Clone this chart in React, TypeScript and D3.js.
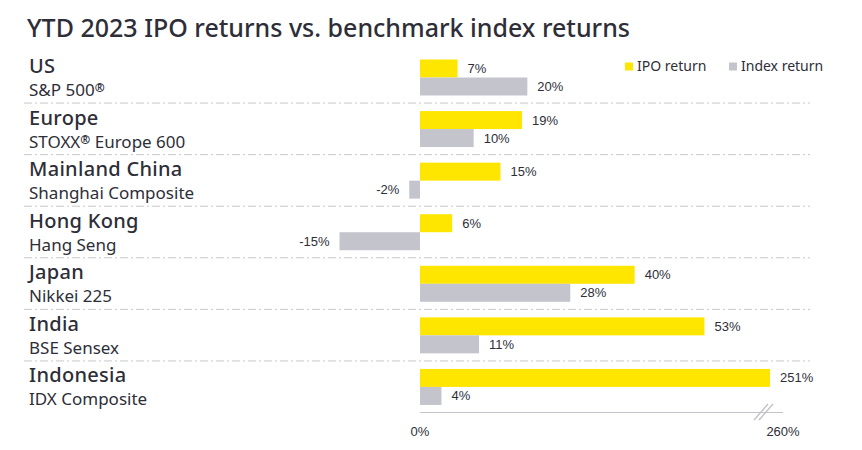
import React from "react";
import * as d3 from "d3";

const regions = ["US", "Europe", "Mainland China", "Hong Kong", "Japan", "India", "Indonesia"];
const indexNames = ["S&P 500®", "STOXX® Europe 600", "Shanghai Composite", "Hang Seng", "Nikkei 225", "BSE Sensex", "IDX Composite"];
const ipoReturns = [7, 19, 15, 6, 40, 53, 251];
const indexReturns = [20, 10, -2, -15, 28, 11, 4];
const axisTicks = [0, 260];
const seriesNames = ["IPO return", "Index return"];

const W = 862;
const H = 450;
const YELLOW = "#FFE600";
const GREY = "#C4C4CD";
const TEXT = "#2E2E38";
const FONT = "'Noto Sans', 'Open Sans', sans-serif";
const NUMFONT = "'Liberation Sans', Arial, sans-serif";

function withReg(s: string) {
  const parts = s.split("®");
  if (parts.length === 1) return s;
  const out: React.ReactNode[] = [];
  parts.forEach((p, i) => {
    out.push(<tspan key={"p" + i}>{p}</tspan>);
    if (i < parts.length - 1)
      out.push(
        <tspan key={"r" + i} fontSize={12} fontWeight={700} baselineShift="35%">
          ®
        </tspan>
      );
  });
  return out;
}

export default function App() {
  // broken axis: linear up to 60%, compressed beyond
  const x = d3
    .scaleLinear()
    .domain([-15, 0, 60, 251, 260])
    .range([339.5, 420, 742, 770, 783]);
  const rows = d3.scaleBand<string>().domain(regions).range([51, 412]).paddingInner(0).paddingOuter(0);
  const barH = 18;
  const barTop = 8.5;
  const fmt = (v: number) => `${v}%`;

  const series = [ipoReturns, indexReturns];
  const colors = [YELLOW, GREY];

  return (
    <svg width={W} height={H} style={{ display: "block", position: "absolute", left: 0, top: 0 }}>
      <rect width={W} height={H} fill="#fff" />
      <text x={27} y={37} fontFamily={FONT} fontSize={25} fill={TEXT} fontWeight={500}>
        YTD 2023 IPO returns vs. benchmark index returns
      </text>

      {/* legend */}
      {seriesNames.map((s, i) => {
        const lx = i === 0 ? 625 : 729;
        return (
          <g key={s}>
            <rect x={lx} y={62.5} width={8} height={8} fill={colors[i]} />
            <text x={lx + 12} y={71} fontFamily={FONT} fontSize={14} fill={TEXT}>
              {s}
            </text>
          </g>
        );
      })}

      {regions.map((r, i) => {
        const y0 = rows(r)!;
        return (
          <g key={r}>
            <text x={29} y={y0 + 22} fontFamily={FONT} fontSize={20} fontWeight={500} letterSpacing={0.3} fill={TEXT}>
              {r}
            </text>
            <text x={29} y={y0 + 45} fontFamily={FONT} fontSize={17} fill={TEXT}>
              {withReg(indexNames[i])}
            </text>
            {i < regions.length - 1 && (
              <line
                x1={24}
                x2={810}
                y1={y0 + rows.bandwidth() + 0.5}
                y2={y0 + rows.bandwidth() + 0.5}
                stroke="#C8C8C8"
                strokeWidth={1}
                strokeDasharray="8,3,2,3"
              />
            )}
            {series.map((vals, s) => {
              const v = vals[i];
              const by = y0 + barTop + s * barH;
              const xa = x(Math.min(0, v));
              const xb = x(Math.max(0, v));
              const neg = v < 0;
              return (
                <g key={s}>
                  <rect x={xa} y={by} width={xb - xa} height={barH} fill={colors[s]} />
                  <text
                    x={neg ? xa - 10 : xb + 10}
                    y={by + barH / 2}
                    dy="0.35em"
                    textAnchor={neg ? "end" : "start"}
                    fontFamily={NUMFONT}
                    fontSize={13}
                    fill={TEXT}
                  >
                    {fmt(v)}
                  </text>
                </g>
              );
            })}
          </g>
        );
      })}

      {/* axis */}
      <line x1={x(0)} x2={x(260)} y1={412.5} y2={412.5} stroke={GREY} strokeWidth={1} />
      {[0, 5].map((o) => (
        <line
          key={o}
          x1={x(251) - 16 + o}
          y1={420}
          x2={x(251) - 2 + o}
          y2={404}
          stroke={GREY}
          strokeWidth={1.5}
        />
      ))}
      {axisTicks.map((t) => (
        <text
          key={t}
          x={x(t)}
          y={436}
          textAnchor="middle"
          fontFamily={NUMFONT}
          fontSize={13}
          fill={TEXT}
        >
          {fmt(t)}
        </text>
      ))}
    </svg>
  );
}
